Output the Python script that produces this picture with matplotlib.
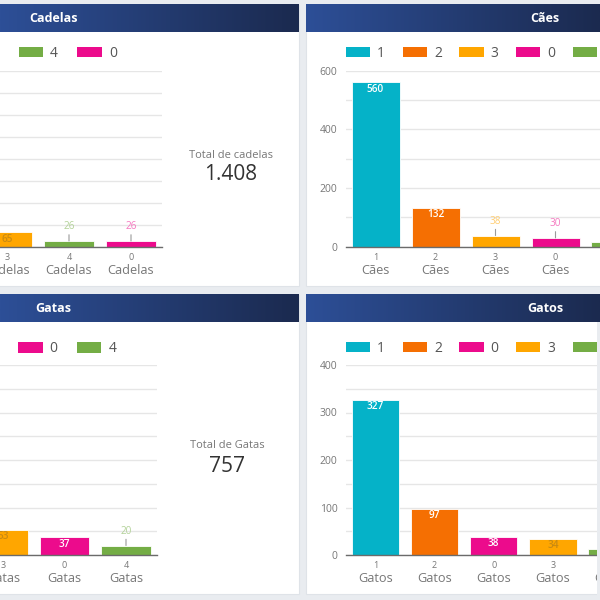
import matplotlib.pyplot as plt
from matplotlib.patches import Rectangle, Patch
from matplotlib.colors import LinearSegmentedColormap, to_rgb
from matplotlib.ticker import MultipleLocator
import numpy as np

plt.rcParams['font.family'] = ['Open Sans', 'DejaVu Sans']

# data per chart (the first two bars of the left charts fall outside the crop)
cadelas_cats = ['1', '2', '3', '4', '0']
cadelas_vals = [760, 531, 65, 26, 26]
caes_cats = ['1', '2', '3', '0', '4']
caes_vals = [560, 132, 38, 30, 15]
gatas_cats = ['1', '2', '3', '0', '4']
gatas_vals = [380, 267, 53, 37, 20]
gatos_cats = ['1', '2', '0', '3', '4']
gatos_vals = [327, 97, 38, 34, 13]

cat_colors = {'1': '#05b2c8', '2': '#f56f02', '3': '#ffa600',
              '0': '#ec0b8c', '4': '#74ad45'}
inside_text = {'3': '#c98a12'}

W = H = 600
PAGE = '#e9ecf0'
fig = plt.figure(figsize=(6, 6), dpi=100)
fig.patch.set_facecolor(PAGE)


def box(x0, x1, y0, y1):
    return [x0 / W, 1 - y1 / H, (x1 - x0) / W, (y1 - y0) / H]


# background: panels, headers, big totals
bg = fig.add_axes([0, 0, 1, 1])
bg.axis('off')
grad = LinearSegmentedColormap.from_list('hdr', ['#2d4f97', '#1b2a4f'])
g = np.linspace(0, 1, 256).reshape(1, -1)
for (x0, x1) in [(-200, 299), (306, 700)]:
    for (y0, y1) in [(5, 286), (295, 594)]:
        bg.add_patch(Rectangle((x0, y0), x1 - x0, y1 - y0, zorder=1,
                               facecolor='white', edgecolor='#dfe3e8', lw=0.8))
        bg.imshow(g, cmap=grad, aspect='auto', zorder=2,
                  extent=(max(x0, 0), min(x1, 600), y0 + 27.5, y0))
bg.set_xlim(0, W)
bg.set_ylim(H, 0)

for title, x, y in [('Cadelas', 53, 18.5), ('Cães', 545, 18.5),
                    ('Gatas', 53, 309), ('Gatos', 545.5, 309)]:
    bg.text(x, y, title, color='white', fontsize=9, fontweight='bold',
            ha='center', va='center', zorder=3)


def fmt_total(n):
    return f'{n:,}'.replace(',', '.')


bg.text(231, 155, 'Total de cadelas', color='#777777', fontsize=8,
        ha='center', va='center')
bg.text(231, 175, fmt_total(sum(cadelas_vals)), color='#333333', fontsize=15,
        ha='center', va='center')
bg.text(227, 446, 'Total de Gatas', color='#777777', fontsize=8,
        ha='center', va='center')
bg.text(227, 466, fmt_total(sum(gatas_vals)), color='#333333', fontsize=15,
        ha='center', va='center')


def lighter(c, f=0.45):
    r = np.array(to_rgb(c))
    return tuple(r + (1 - r) * f)


def chart(rect, cats, vals, name, ymax, grid_step, label_step, leg_x, leg_y, leg_gap):
    x0, x1, y0, y1 = rect
    ax = fig.add_axes(box(x0, x1, y0, y1))
    ax.set_facecolor('none')
    colors = [cat_colors[c] for c in cats]
    xs = np.arange(len(cats))
    ax.bar(xs, vals, width=0.8, color=colors, edgecolor='white', lw=0.6, zorder=2)
    ax.set_xlim(-0.5, len(cats) - 0.5)
    ax.set_ylim(0, ymax)
    ax.yaxis.set_major_locator(MultipleLocator(label_step))
    ax.yaxis.set_minor_locator(MultipleLocator(grid_step))
    ax.grid(axis='y', which='both', color='#e6e6e6', lw=1, zorder=0)
    ax.set_axisbelow(True)
    for s in ['top', 'right', 'left']:
        ax.spines[s].set_visible(False)
    ax.spines['bottom'].set_color('#6b6b6b')
    ax.spines['bottom'].set_linewidth(1)
    ax.spines['bottom'].set_zorder(3)

    ax.xaxis.remove_overlapping_locs = False
    ax.set_xticks(xs)
    ax.set_xticklabels(cats)
    ax.set_xticks(xs, minor=True)
    ax.set_xticklabels([name] * len(cats), minor=True)
    ax.tick_params(which='both', length=0)
    ax.tick_params(axis='x', which='major', pad=4.5, labelsize=6.5, labelcolor='#777777')
    ax.tick_params(axis='x', which='minor', pad=12.5, labelsize=9.2, labelcolor='#777777')
    ax.tick_params(axis='y', which='major', pad=6, labelsize=7.5, labelcolor='#777777')
    if x0 < 0:
        ax.tick_params(axis='y', labelleft=False)

    px_per_unit = (y1 - y0) / ymax
    for x, v, c in zip(xs, vals, cats):
        if v * px_per_unit >= 13:
            ax.annotate(str(v), (x, v), xytext=(0, -7), textcoords='offset pixels',
                        ha='center', va='center', fontsize=7.2, fontweight='semibold',
                        color=inside_text.get(c, 'white'), zorder=4)
        else:
            ax.annotate(str(v), (x, v), xytext=(0, 14.5), textcoords='offset pixels',
                        ha='center', va='center', fontsize=7.2,
                        color=lighter(cat_colors[c]), zorder=4,
                        arrowprops=dict(arrowstyle='-', color='#9a9a9a', lw=0.8,
                                        shrinkA=0, shrinkB=0))

    handles = [Patch(facecolor=cat_colors[c], label=c) for c in cats]
    fs = 10 / 72 * 100
    ax.legend(handles=handles, loc='center left', ncol=len(cats),
              bbox_to_anchor=(leg_x / W, 1 - leg_y / H), bbox_transform=fig.transFigure,
              frameon=False, fontsize=10, labelcolor='#555555',
              handlelength=24.5 / fs, handleheight=11 / fs, handletextpad=7 / fs,
              columnspacing=(leg_gap - 39) / fs, borderpad=0, borderaxespad=0)
    return ax


chart((-148, 162, 70.7, 246.7), cadelas_cats, cadelas_vals, 'Cadelas', 800, 100, 200,
      -157.9, 53.3, 58.4)
chart((345.5, 645.5, 70.7, 246.7), caes_cats, caes_vals, 'Cães', 600, 100, 200,
      345.7, 53.5, 56.3)
chart((-150.75, 156.75, 365, 555), gatas_cats, gatas_vals, 'Gatas', 400, 50, 100,
      -158, 348.7, 58.3)
chart((345.7, 641.7, 365, 555), gatos_cats, gatos_vals, 'Gatos', 400, 50, 100,
      345.7, 348.3, 56.3)

# the lower right panel ends just before the crop edge
fig.add_artist(Rectangle((597 / W, 0), 3 / W, 1 - 322 / H, transform=fig.transFigure,
                         facecolor=PAGE, edgecolor='none', zorder=10))

fig.savefig('out.png', dpi=100)
